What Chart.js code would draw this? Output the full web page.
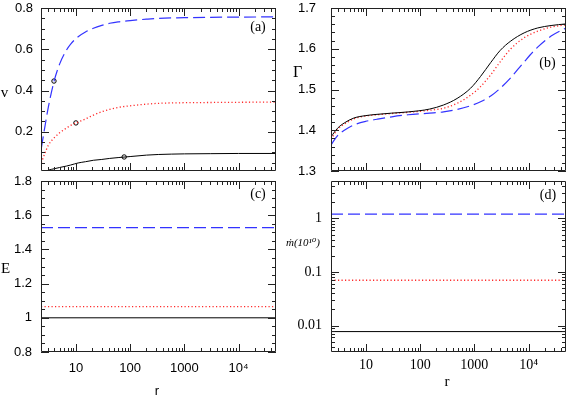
<!DOCTYPE html>
<html>
<head>
<meta charset="utf-8">
<script src="https://cdn.jsdelivr.net/npm/chart.js@4.4.0/dist/chart.umd.min.js"></script>
<style>
  body { margin: 0; background: #fff; width: 573px; height: 398px; position: relative; overflow: hidden; }
  canvas { position: absolute; }
  .lbl { position: absolute; transform: translate(-50%, -50%); white-space: nowrap; color: #000; line-height: 1; }
  .serif { font-family: "Liberation Serif", "DejaVu Serif", serif; }
  .sans { font-family: "Liberation Sans", Arial, sans-serif; }
</style>
</head>
<body>
<canvas id="pa" width="290" height="180" style="left:0;top:0"></canvas>
<canvas id="pb" width="293" height="180" style="left:280px;top:0"></canvas>
<canvas id="pc" width="290" height="226" style="left:0;top:172px"></canvas>
<canvas id="pd" width="293" height="226" style="left:280px;top:172px"></canvas>

<div class="lbl serif" style="left:4.5px;top:92px;font-size:15px">v</div>
<div class="lbl serif" style="left:297.5px;top:72px;font-size:16px">Γ</div>
<div class="lbl serif" style="left:5.5px;top:268px;font-size:15px">E</div>
<div class="lbl serif" style="left:303px;top:242px;font-size:11px;font-style:italic">ṁ(10¹⁰)</div>
<div class="lbl sans" style="left:157px;top:390px;font-size:13px">r</div>
<div class="lbl serif" style="left:447px;top:381px;font-size:15px">r</div>
<div class="lbl serif" style="left:258px;top:27px;font-size:14px">(a)</div>
<div class="lbl serif" style="left:547.5px;top:63px;font-size:14px">(b)</div>
<div class="lbl serif" style="left:258px;top:194px;font-size:14px">(c)</div>
<div class="lbl serif" style="left:548px;top:195px;font-size:14px">(d)</div>

<script>
// x range (radius r), shared by all panels
const rMin = 2.27, rMax = 49000;
const xMajor = [10, 100, 1000, 10000];
const xLabels = ['10', '100', '1000', '10⁴'];

// panel (a): velocity v(r)
const rA = [2.3, 2.7, 3.1, 4, 5, 6.7, 8, 11, 15, 21, 30, 42, 60, 100, 200, 330, 1000, 3000, 10000, 49000];
const vBlue = [0.12, 0.23, 0.32, 0.45, 0.528, 0.596, 0.625, 0.661, 0.684, 0.702, 0.716, 0.726, 0.733, 0.739, 0.746, 0.750, 0.753, 0.755, 0.756, 0.757];
const vRed = [0.05, 0.098, 0.135, 0.172, 0.195, 0.218, 0.231, 0.247, 0.262, 0.281, 0.297, 0.309, 0.318, 0.326, 0.334, 0.338, 0.341, 0.342, 0.343, 0.344];
const vBlack = [null, 0.006, 0.014, 0.021, 0.027, 0.034, 0.039, 0.049, 0.055, 0.062, 0.066, 0.071, 0.075, 0.080, 0.087, 0.090, 0.093, 0.094, 0.095, 0.095];
const sonicR = [3.94, 10, 77.6];
const sonicV = [0.446, 0.243, 0.078];
const aTicks = [0.2, 0.4, 0.6, 0.8];

// panel (b): adiabatic index Gamma(r)
const rB = [2.27, 3, 4, 6, 10, 16, 30, 60, 150, 270, 480, 850, 1300, 2000, 3000, 4700, 8300, 14700, 26000, 49000];
const gBlack = [1.384, 1.405, 1.418, 1.430, 1.436, 1.439, 1.442, 1.445, 1.452, 1.462, 1.478, 1.503, 1.532, 1.566, 1.596, 1.619, 1.639, 1.651, 1.657, 1.661];
const gRed = [1.378, 1.402, 1.415, 1.428, 1.435, 1.438, 1.441, 1.444, 1.449, 1.454, 1.466, 1.486, 1.507, 1.536, 1.568, 1.600, 1.627, 1.643, 1.653, 1.659];
const gBlue = [1.364, 1.387, 1.400, 1.413, 1.422, 1.427, 1.433, 1.438, 1.442, 1.445, 1.451, 1.460, 1.470, 1.484, 1.503, 1.529, 1.568, 1.604, 1.631, 1.651];
const bTicks = [1.3, 1.4, 1.5, 1.6, 1.7];

// panel (c): energy E, panel (d): accretion rate  (order: black, red, blue)
const eLevels = [1.0, 1.065, 1.527];
const cTicks = [0.8, 1, 1.2, 1.4, 1.6, 1.8];
const cLabels = ['0.8', '1', '1.2', '1.4', '1.6', '1.8'];
const mdotLevels = [0.0077, 0.07, 1.2];
const dTicks = [0.01, 0.1, 1];
const dLabels = ['0.01', '0.1', '1'];

const sans = { family: '"Liberation Sans", Arial, sans-serif', size: 13 };
const serif = { family: '"Liberation Serif", "DejaVu Serif", serif', size: 14 };

const lineStyle = [
  { borderColor: '#000', borderWidth: 1 },
  { borderColor: '#ff2a2a', borderWidth: 1.3, borderDash: [1.2, 2.3] },
  { borderColor: '#3333ff', borderWidth: 1.2, borderDash: [12, 5] }
];

function logMinor(lo, hi) {
  const out = [];
  for (let e = -4; e <= 5; e++)
    for (let n = 2; n <= 9; n++) {
      const v = n * Math.pow(10, e);
      if (v > lo && v < hi) out.push(v);
    }
  return out;
}
function linMinor(lo, hi, step) {
  const out = [];
  for (let k = Math.ceil(lo / step - 1e-9); k * step <= hi + 1e-9; k++) out.push(+(k * step).toFixed(6));
  return out;
}

// frame with inward ticks on all four sides
const frameTicks = {
  id: 'frameTicks',
  afterDatasetsDraw(chart, args, o) {
    const { ctx, chartArea: a, scales: { x, y } } = chart;
    ctx.save();
    ctx.strokeStyle = '#222';
    ctx.lineWidth = 1;
    ctx.beginPath();
    const near = (v, list) => list.some(m => Math.abs(m - v) < 1e-6 * Math.max(1, Math.abs(m)));
    const xt = (v, len) => {
      const p = Math.round(x.getPixelForValue(v)) + 0.5;
      ctx.moveTo(p, a.bottom); ctx.lineTo(p, a.bottom - len);
      ctx.moveTo(p, a.top); ctx.lineTo(p, a.top + len);
    };
    const yt = (v, len) => {
      const p = Math.round(y.getPixelForValue(v)) + 0.5;
      ctx.moveTo(a.left, p); ctx.lineTo(a.left + len, p);
      ctx.moveTo(a.right, p); ctx.lineTo(a.right - len, p);
    };
    xMajor.forEach(v => xt(v, 8));
    logMinor(rMin, rMax).filter(v => !near(v, xMajor)).forEach(v => xt(v, 4));
    o.yMajor.forEach(v => yt(v, 8));
    o.yMinor.filter(v => !near(v, o.yMajor)).forEach(v => yt(v, 4));
    ctx.rect(a.left + 0.5, a.top + 0.5, a.right - a.left - 1, a.bottom - a.top - 1);
    ctx.stroke();
    ctx.restore();
  }
};

function panel(id, p) {
  return new Chart(document.getElementById(id), {
    type: 'line',
    data: { datasets: p.datasets },
    options: {
      responsive: false,
      animation: false,
      layout: { padding: p.padding },
      elements: { point: { radius: 0 }, line: { cubicInterpolationMode: 'monotone' } },
      plugins: {
        legend: { display: false },
        tooltip: { enabled: false },
        frameTicks: { yMajor: p.yTicks, yMinor: p.yMinor }
      },
      scales: {
        x: {
          type: 'logarithmic', min: rMin, max: rMax, display: p.xShow,
          grid: { display: false, drawTicks: false }, border: { display: false },
          afterBuildTicks: s => { s.ticks = xMajor.map(v => ({ value: v })); },
          ticks: { autoSkip: false, maxRotation: 0, padding: p.xPad || 0, font: p.font, color: '#000',
                   callback: (v, i) => xLabels[i] },
          afterFit: s => { s.height = p.xHeight || 0; s.paddingLeft = 0; s.paddingRight = 0; }
        },
        y: {
          type: p.yType, min: p.yMin, max: p.yMax,
          grid: { display: false, drawTicks: false }, border: { display: false },
          afterBuildTicks: s => { s.ticks = p.yTicks.map(v => ({ value: v })); },
          ticks: { autoSkip: false, padding: p.yPad, font: p.font, color: '#000',
                   callback: (v, i) => p.yLabels[i] },
          afterFit: s => { s.width = p.yWidth; s.paddingTop = 0; s.paddingBottom = 0; }
        }
      }
    },
    plugins: [frameTicks]
  });
}

const curve = (xs, ys, k) => Object.assign({
  data: xs.map((r, i) => ({ x: r, y: ys[i] })), fill: false
}, lineStyle[k]);
const flat = (level, k) => Object.assign({
  data: [{ x: rMin, y: level }, { x: rMax, y: level }], fill: false
}, lineStyle[k]);

panel('pa', {
  datasets: [
    curve(rA, vBlack, 0), curve(rA, vRed, 1), curve(rA, vBlue, 2),
    { data: sonicR.map((r, i) => ({ x: r, y: sonicV[i] })), showLine: false,
      pointRadius: 2.2, pointBorderWidth: 1, pointBorderColor: '#000', pointBackgroundColor: 'rgba(0,0,0,0)' }
  ],
  yType: 'linear', yMin: 0.01, yMax: 0.8, yTicks: aTicks, yLabels: aTicks.map(String),
  yMinor: linMinor(0.01, 0.8, 0.05), yWidth: 41, yPad: 8, font: sans,
  xShow: false, xHeight: 0, padding: { left: 0, top: 8, right: 14, bottom: 9 }
});

panel('pb', {
  datasets: [curve(rB, gBlack, 0), curve(rB, gRed, 1), curve(rB, gBlue, 2)],
  yType: 'linear', yMin: 1.3, yMax: 1.7, yTicks: bTicks, yLabels: bTicks.map(String),
  yMinor: linMinor(1.3, 1.7, 0.02), yWidth: 51, yPad: 15, font: sans,
  xShow: false, xHeight: 0, padding: { left: 0, top: 8, right: 7, bottom: 9 }
});

panel('pc', {
  datasets: eLevels.map((e, k) => flat(e, k)),
  yType: 'linear', yMin: 0.8, yMax: 1.8, yTicks: cTicks, yLabels: cLabels,
  yMinor: linMinor(0.8, 1.8, 0.05), yWidth: 41, yPad: 9, font: sans,
  xShow: true, xHeight: 46, xPad: 9, padding: { left: 0, top: 9, right: 14, bottom: 0 }
});

panel('pd', {
  datasets: mdotLevels.map((m, k) => flat(m, k)),
  yType: 'logarithmic', yMin: 0.0032, yMax: 5, yTicks: dTicks, yLabels: dLabels,
  yMinor: logMinor(0.0032, 5), yWidth: 51, yPad: 9, font: serif,
  xShow: true, xHeight: 46, xPad: 5, padding: { left: 0, top: 9, right: 7, bottom: 0 }
});
</script>
</body>
</html>
